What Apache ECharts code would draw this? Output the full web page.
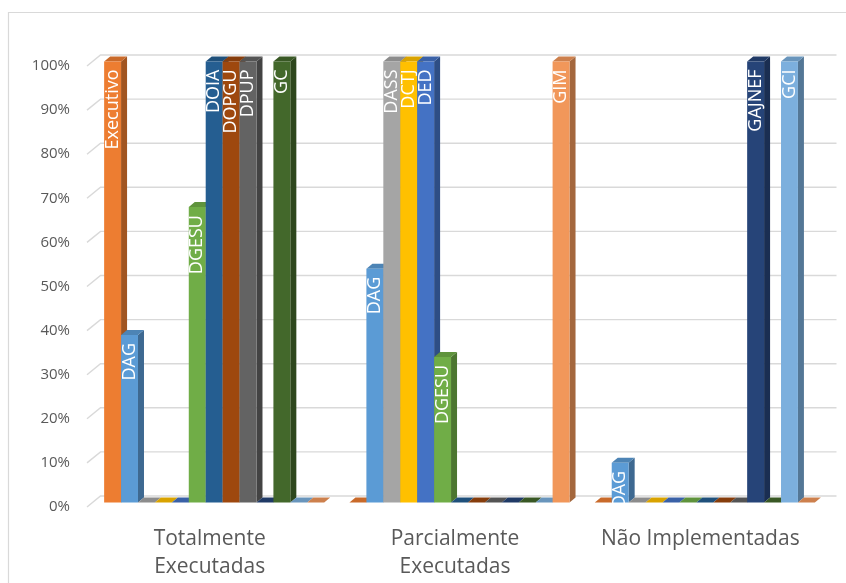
<!DOCTYPE html>
<html>
<head>
<meta charset="utf-8">
<script src="https://cdn.jsdelivr.net/npm/echarts@6/dist/echarts.min.js"></script>
<style>
  html, body { margin: 0; padding: 0; background: #fff; }
  #chart { width: 846px; height: 583px; }
</style>
</head>
<body>
<div id="chart"></div>
<script>
// ---- Data ----
const categories = ['Totalmente\nExecutadas', 'Parcialmente\nExecutadas', 'Não Implementadas'];
const yTicks = [0, 0.1, 0.2, 0.3, 0.4, 0.5, 0.6, 0.7, 0.8, 0.9, 1.0];

const seriesNames = ['Executivo', 'DAG', 'DASS', 'DCTJ', 'DED', 'DGESU', 'DOIA', 'DOPGU', 'DPUP', 'GAJNEF', 'GC', 'GCI', 'GIM'];
const executivo = [1.00, 0.00, 0.00];
const dag       = [0.38, 0.53, 0.09];
const dass      = [0.00, 1.00, 0.00];
const dctj      = [0.00, 1.00, 0.00];
const ded       = [0.00, 1.00, 0.00];
const dgesu     = [0.67, 0.33, 0.00];
const doia      = [1.00, 0.00, 0.00];
const dopgu     = [1.00, 0.00, 0.00];
const dpup      = [1.00, 0.00, 0.00];
const gajnef    = [0.00, 0.00, 1.00];
const gc        = [1.00, 0.00, 0.00];
const gci       = [0.00, 0.00, 1.00];
const gim       = [0.00, 1.00, 0.00];
const seriesValues = [executivo, dag, dass, dctj, ded, dgesu, doia, dopgu, dpup, gajnef, gc, gci, gim];

// ---- Styles ----
const colors = ['#ED7D31', '#5B9BD5', '#A5A5A5', '#FFC000', '#4472C4', '#70AD47',
                '#255E91', '#9E480E', '#636363', '#264478', '#43682B', '#7CAFDD', '#F1975A'];
const FONT = '"Open Sans", "DejaVu Sans", sans-serif';
const N = seriesNames.length;
const GAP = 0.103;        // category gap fraction
const BDX = 4.5, BDY = -4.5;   // bar front-plane offset from axis plane
const DX = 6, DY = 5;          // bar depth
const WDX = 13.5, WDY = 11;    // wall depth (gridlines)

function shade(hex, f) {
  const n = parseInt(hex.slice(1), 16);
  const r = Math.round(((n >> 16) & 255) * f);
  const g = Math.round(((n >> 8) & 255) * f);
  const b = Math.round((n & 255) * f);
  return 'rgb(' + r + ',' + g + ',' + b + ')';
}

function barRenderer(idx) {
  const color = colors[idx];
  const name = seriesNames[idx];
  return function (params, api) {
    const cat = api.value(0);
    const v = api.value(1);
    const band = api.size([1, 0])[0];
    const base = api.coord([cat, 0]);
    const topP = api.coord([cat, v]);
    const groupW = band * (1 - GAP);
    const w = groupW / N;
    const x = base[0] - groupW / 2 + idx * w + BDX;
    const y0 = base[1] + BDY;
    const y1 = topP[1] + BDY;
    const children = [
      { type: 'polygon', shape: { points: [[x + w, y1], [x + w + DX, y1 - DY], [x + w + DX, y0 - DY], [x + w, y0]] },
        style: { fill: shade(color, 0.68) } },
      { type: 'polygon', shape: { points: [[x, y1], [x + w, y1], [x + w + DX, y1 - DY], [x + DX, y1 - DY]] },
        style: { fill: shade(color, 0.85) } },
      { type: 'rect', shape: { x: x, y: y1, width: w, height: Math.max(0, y0 - y1) },
        style: { fill: color } }
    ];
    if (v > 0) {
      children.push({
        type: 'text', x: x + w / 2, y: y1 + 8, rotation: Math.PI / 2,
        style: { text: name, fill: '#ffffff', fontSize: 18, fontFamily: FONT,
                 align: 'right', verticalAlign: 'middle' }
      });
    }
    return { type: 'group', children: children };
  };
}

function gridRenderer(params, api) {
  const cs = params.coordSys;
  const y = api.coord([0, api.value(1)])[1];
  return {
    type: 'polyline',
    shape: { points: [[cs.x, y], [cs.x + WDX, y - WDY], [cs.x + cs.width + WDX, y - WDY]] },
    style: { stroke: '#D9D9D9', lineWidth: 1.4, fill: null }
  };
}

const series = [{
  type: 'custom', name: 'grid', z: 1, silent: true,
  renderItem: gridRenderer,
  encode: { x: 0, y: 1 },
  data: yTicks.map(v => [0, v])
}];
seriesValues.forEach((vals, i) => {
  series.push({
    type: 'custom', name: seriesNames[i], z: 2,
    renderItem: barRenderer(i),
    encode: { x: 0, y: 1 },
    data: vals.map((v, c) => [c, v])
  });
});

const chart = echarts.init(document.getElementById('chart'), null, { renderer: 'canvas' });
chart.setOption({
  animation: false,
  backgroundColor: '#ffffff',
  graphic: [{
    type: 'rect', shape: { x: 8.5, y: 12.5, width: 900, height: 700 },
    style: { fill: null, stroke: '#D9D9D9', lineWidth: 1.2 }, silent: true, z: 0
  }],
  grid: { left: 87, right: 23, top: 66, bottom: 76, containLabel: false },
  xAxis: {
    type: 'category', data: categories,
    axisLine: { show: false }, axisTick: { show: false },
    axisLabel: { color: '#595959', fontSize: 21, fontFamily: FONT, lineHeight: 28, margin: 18, interval: 0 },
    splitLine: { show: false }
  },
  yAxis: {
    type: 'value', min: 0, max: 1, interval: 0.1,
    axisLine: { show: false }, axisTick: { show: false },
    splitLine: { show: false },
    axisLabel: { color: '#595959', fontSize: 15, fontFamily: FONT, margin: 17,
                 formatter: v => Math.round(v * 100) + '%' }
  },
  series: series
});
</script>
</body>
</html>
